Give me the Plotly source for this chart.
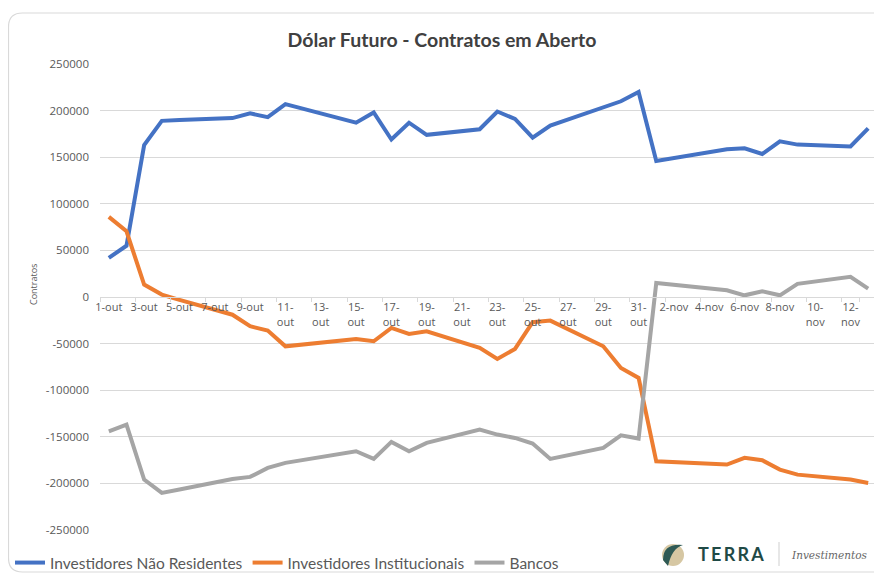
import plotly.graph_objects as go

# ---------------- data ----------------
dates = [f"{d}-out" for d in range(1, 32)] + [f"{d}-nov" for d in range(1, 14)]

trade_days = ["1-out", "2-out", "3-out", "4-out", "5-out", "8-out", "9-out", "10-out", "11-out",
              "15-out", "16-out", "17-out", "18-out", "19-out", "22-out", "23-out", "24-out",
              "25-out", "26-out", "29-out", "30-out", "31-out", "1-nov", "5-nov", "6-nov",
              "7-nov", "8-nov", "9-nov", "12-nov", "13-nov"]

nao_residentes = [42000, 55000, 163000, 189000, 190000, 192000, 197000, 193000, 207000,
                  187000, 198000, 169000, 187000, 174000, 180000, 199000, 191000,
                  171000, 184000, 204000, 210000, 220000, 146000, 158500, 159500,
                  153500, 167000, 163500, 161500, 181000]

institucionais = [86000, 70500, 13300, 2600, -3000, -19000, -31400, -36000, -52900,
                  -45000, -47500, -33200, -39600, -36800, -54600, -66400, -55700,
                  -27100, -25300, -52900, -76100, -86800, -176300, -179800, -172600,
                  -175200, -185200, -190600, -195900, -199500]

bancos = [-144100, -136900, -195900, -210200, -206600, -195200, -193000, -183400, -178000,
          -165500, -173700, -155500, -165500, -156500, -142300, -147600, -151200,
          -157300, -173700, -161900, -148400, -151900, 15100, 7200, 1800,
          6100, 1800, 14100, 21600, 9000]

series_names = ["Investidores Não Residentes", "Investidores Institucionais", "Bancos"]
series_colors = ["#4472c4", "#ed7d31", "#a5a5a5"]

tick_dates = dates[::2]
tick_labels = ["1-out", "3-out", "5-out", "7-out", "9-out", "11-<br>out", "13-<br>out", "15-<br>out",
               "17-<br>out", "19-<br>out", "21-<br>out", "23-<br>out", "25-<br>out", "27-<br>out",
               "29-<br>out", "31-<br>out", "2-nov", "4-nov", "6-nov", "8-nov", "10-<br>nov", "12-<br>nov"]

y_ticks = [250000, 200000, 150000, 100000, 50000, 0, -50000, -100000, -150000, -200000, -250000]
y_tick_labels = [str(v) for v in y_ticks]

# ---------------- figure ----------------
# page is 882x579; the figure sits 8px in from the page's top-left (body margin)
OFF = 8
PAGE_W, PAGE_H = 882, 579
W, H = PAGE_W - OFF, PAGE_H - OFF
# plot area in page pixels: x 100..877, y 64..530
ML, MR, MT, MB = 100 - OFF, PAGE_W - 877, 64 - OFF, PAGE_H - 530
PW, PH = W - ML - MR, H - MT - MB


def px(x):
    """page x pixel -> paper x"""
    return (x - OFF - ML) / PW


def py(y):
    """page y pixel -> paper y"""
    return (H - MB - (y - OFF)) / PH


fig = go.Figure()
for name, vals, col in zip(series_names, [nao_residentes, institucionais, bancos], series_colors):
    fig.add_trace(go.Scatter(
        x=trade_days, y=vals, name=name, mode="lines",
        line=dict(color=col, width=4), connectgaps=True,
    ))

fig.update_layout(
    width=W, height=H,
    margin=dict(l=ML, r=MR, t=MT, b=MB, autoexpand=False),
    paper_bgcolor="white", plot_bgcolor="white",
    title=dict(text="<b>Dólar Futuro - Contratos em Aberto</b>",
               x=(442 - OFF) / W, xanchor="center",
               y=1 - (40 - OFF) / H, yanchor="middle",
               font=dict(family="Lato", size=19.5, color="#404040")),
    font=dict(family="Open Sans", color="#595959"),
    showlegend=True,
    legend=dict(orientation="h", x=px(10), y=py(563), xanchor="left", yanchor="middle",
                font=dict(family="Lato", size=15.5, color="#595959"),
                bgcolor="rgba(0,0,0,0)", itemwidth=30, tracegroupgap=0),
)

fig.update_xaxes(
    type="category", categoryorder="array", categoryarray=dates,
    range=[-0.5, len(dates) - 0.5],
    tickmode="array", tickvals=tick_dates, ticktext=tick_labels,
    tickangle=0,
    tickson="boundaries", ticks="outside", ticklen=4, tickcolor="#d9d9d9",
    showline=True, linecolor="#d9d9d9", linewidth=1,
    showgrid=False, zeroline=False,
    anchor="free", position=0.5, automargin=False,
    tickfont=dict(family="Open Sans", size=11, color="#595959"),
)

fig.update_yaxes(
    range=[-250000, 250000],
    tickmode="array", tickvals=y_ticks, ticktext=y_tick_labels,
    showgrid=True, gridcolor="#d9d9d9", gridwidth=1,
    zeroline=False, showline=False, ticks="", automargin=False,
    ticklabelstandoff=10,
    tickfont=dict(family="Open Sans", size=11.5, color="#595959"),
)

# y axis title
fig.add_annotation(text="Contratos", textangle=-90, xref="paper", yref="paper",
                   x=px(33), y=py(285), xanchor="center", yanchor="middle", showarrow=False,
                   font=dict(family="Open Sans", size=9, color="#595959"))

# chart frame (rounded)
x0, y0, x1, y1, r = px(8.5), py(13), px(895), py(572), 14
rx, ry = r / PW, r / PH
frame = (f"M {x0 + rx},{y0} L {x1 - rx},{y0} Q {x1},{y0} {x1},{y0 - ry} "
         f"L {x1},{y1 + ry} Q {x1},{y1} {x1 - rx},{y1} L {x0 + rx},{y1} "
         f"Q {x0},{y1} {x0},{y1 + ry} L {x0},{y0 - ry} Q {x0},{y0} {x0 + rx},{y0} Z")
fig.add_shape(type="path", path=frame, xref="paper", yref="paper",
              line=dict(color="#d9d9d9", width=1.2), layer="below")

# logo: TERRA | Investimentos
cx, cy, rr = 673, 555, 11
fig.add_shape(type="circle", xref="paper", yref="paper",
              x0=px(cx - rr), x1=px(cx + rr), y0=py(cy + rr), y1=py(cy - rr),
              fillcolor="#d6c7a3", line=dict(width=0))
leaf = (f"M {px(663)},{py(560)} Q {px(663)},{py(543)} {px(683)},{py(545)} "
        f"Q {px(672)},{py(548)} {px(668)},{py(566)} Z")
fig.add_shape(type="path", path=leaf, xref="paper", yref="paper",
              fillcolor="#2f5a55", line=dict(width=0))
fig.add_annotation(text="<b>T\u2009E\u2009R\u2009R\u2009A</b>", xref="paper", yref="paper",
                   x=px(696), y=py(554),
                   xanchor="left", yanchor="middle", showarrow=False,
                   font=dict(family="Lato", size=18, color="#1f4a46"))
fig.add_shape(type="line", xref="paper", yref="paper", x0=px(779), x1=px(779),
              y0=py(542), y1=py(566), line=dict(color="#cfcfcf", width=1))
fig.add_annotation(text="<i>Investimentos</i>", xref="paper", yref="paper", x=px(789), y=py(555),
                   xanchor="left", yanchor="middle", showarrow=False,
                   font=dict(family="DejaVu Serif", size=10.5, color="#666666"))

fig.write_html("out.html")
